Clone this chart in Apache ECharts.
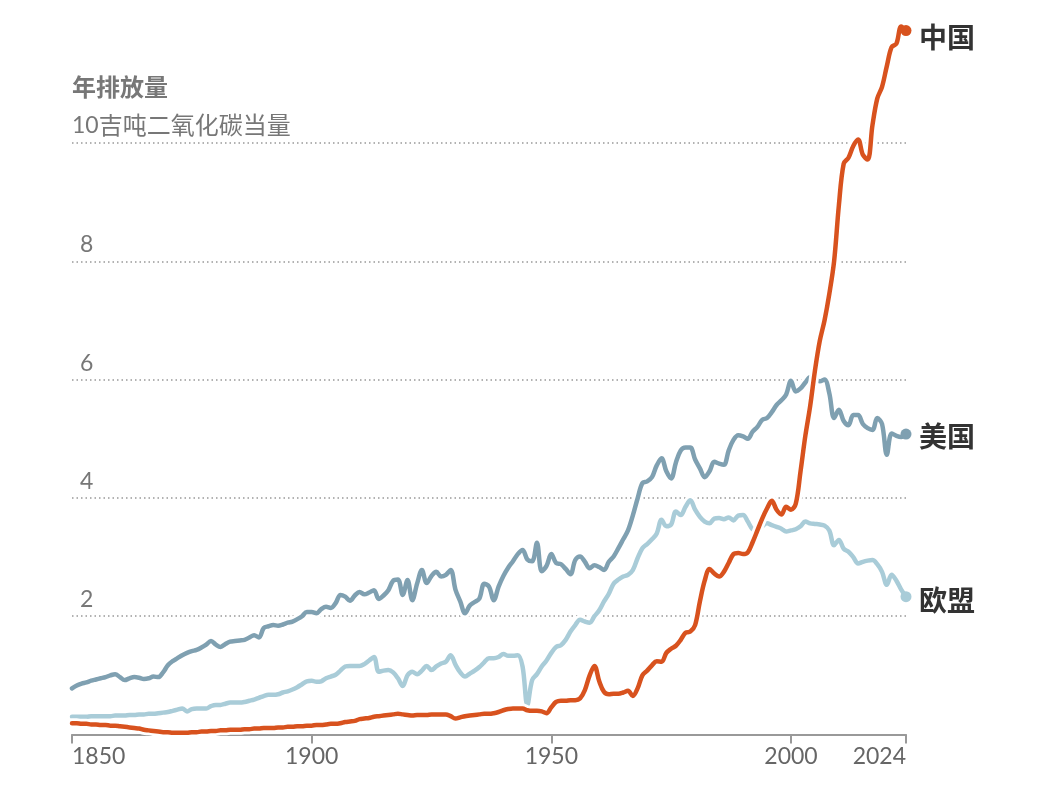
<!DOCTYPE html>
<html><head><meta charset="utf-8">
<script src="https://cdn.jsdelivr.net/npm/echarts@6/dist/echarts.min.js"></script>
<style>html,body{margin:0;padding:0;background:#fff}#c{width:1050px;height:788px}</style>
</head><body><div id="c"></div>
<script>
const startYear = 1850;
const xTicks = [1850, 1900, 1950, 2000, 2024];
const yTicks = [2, 4, 6, 8, 10];
const unitLabel = '吉吨二氧化碳当量';
const titleText = '年排放量';

const usValues = [
  0.78,0.83,0.86,0.88,0.91,0.93,0.95,0.97,1.00,1.02,
  0.97,0.92,0.95,0.97,0.96,0.94,0.95,0.98,0.97,1.05,
  1.17,1.24,1.29,1.34,1.38,1.41,1.43,1.47,1.52,1.58,
  1.52,1.48,1.53,1.57,1.58,1.59,1.60,1.64,1.68,1.64,
  1.80,1.83,1.85,1.84,1.86,1.89,1.91,1.95,2.00,2.07,
  2.07,2.05,2.12,2.16,2.14,2.22,2.36,2.33,2.26,2.35,
  2.41,2.37,2.40,2.44,2.29,2.35,2.44,2.60,2.62,2.36,
  2.61,2.27,2.55,2.78,2.56,2.68,2.75,2.67,2.70,2.78,
  2.45,2.25,2.05,2.18,2.24,2.30,2.55,2.50,2.27,2.50,
  2.68,2.82,2.93,3.05,3.12,2.96,2.93,3.24,2.76,2.85,
  3.05,2.90,2.88,2.80,2.71,2.95,3.01,2.92,2.81,2.86,
  2.83,2.78,2.92,3.01,3.15,3.30,3.45,3.70,3.99,4.25,
  4.28,4.35,4.55,4.67,4.45,4.33,4.60,4.80,4.85,4.85,
  4.65,4.50,4.35,4.45,4.61,4.58,4.56,4.80,4.98,5.06,
  5.04,5.00,5.12,5.20,5.32,5.35,5.45,5.57,5.65,5.75,
  5.98,5.80,5.85,5.95,6.04,6.02,5.97,6.00,5.77,5.35,
  5.49,5.30,5.23,5.40,5.40,5.25,5.18,5.15,5.35,5.25,
  4.73,5.09,5.05,5.03,5.08
];
const euValues = [
  0.30,0.30,0.30,0.30,0.31,0.31,0.31,0.31,0.31,0.32,
  0.32,0.32,0.33,0.33,0.34,0.34,0.35,0.35,0.36,0.37,
  0.38,0.40,0.42,0.44,0.39,0.43,0.44,0.44,0.44,0.48,
  0.50,0.50,0.52,0.54,0.54,0.54,0.55,0.57,0.59,0.62,
  0.65,0.67,0.67,0.68,0.71,0.73,0.76,0.80,0.85,0.90,
  0.91,0.89,0.90,0.95,0.98,1.01,1.08,1.15,1.16,1.16,
  1.16,1.19,1.25,1.31,1.06,1.08,1.09,1.05,0.95,0.82,
  1.00,1.06,1.02,1.08,1.16,1.09,1.15,1.20,1.23,1.34,
  1.18,1.05,0.98,1.03,1.08,1.14,1.22,1.29,1.29,1.31,
  1.36,1.33,1.33,1.34,1.15,0.50,0.92,1.02,1.15,1.25,
  1.38,1.48,1.51,1.60,1.74,1.85,1.94,1.91,1.89,2.00,
  2.10,2.25,2.38,2.55,2.62,2.67,2.70,2.78,2.98,3.15,
  3.22,3.30,3.40,3.63,3.52,3.55,3.77,3.71,3.85,3.96,
  3.80,3.68,3.60,3.57,3.65,3.66,3.64,3.67,3.62,3.70,
  3.71,3.60,3.47,3.45,3.52,3.57,3.54,3.51,3.48,3.43,
  3.45,3.47,3.52,3.60,3.57,3.56,3.55,3.53,3.45,3.20,
  3.29,3.14,3.09,3.00,2.89,2.92,2.94,2.95,2.88,2.75,
  2.53,2.70,2.60,2.45,2.33
];
const chinaValues = [
  0.19,0.19,0.18,0.18,0.17,0.17,0.16,0.16,0.15,0.15,
  0.14,0.13,0.12,0.11,0.10,0.08,0.07,0.06,0.05,0.04,
  0.04,0.03,0.03,0.03,0.03,0.04,0.04,0.05,0.05,0.06,
  0.06,0.07,0.07,0.08,0.08,0.08,0.09,0.09,0.10,0.10,
  0.11,0.11,0.11,0.12,0.12,0.13,0.13,0.14,0.14,0.15,
  0.15,0.16,0.16,0.17,0.18,0.18,0.19,0.21,0.22,0.23,
  0.26,0.27,0.28,0.30,0.31,0.32,0.33,0.34,0.35,0.34,
  0.33,0.32,0.33,0.33,0.33,0.34,0.34,0.34,0.34,0.31,
  0.27,0.29,0.31,0.32,0.33,0.34,0.35,0.35,0.36,0.38,
  0.41,0.43,0.44,0.44,0.44,0.41,0.40,0.40,0.39,0.36,
  0.46,0.55,0.57,0.57,0.58,0.58,0.61,0.75,1.00,1.16,
  0.90,0.72,0.68,0.69,0.69,0.71,0.74,0.65,0.78,1.00,
  1.08,1.17,1.24,1.23,1.38,1.45,1.50,1.60,1.72,1.74,
  1.85,2.25,2.60,2.80,2.72,2.67,2.75,2.90,3.05,3.07,
  3.05,3.08,3.25,3.45,3.65,3.82,3.95,3.80,3.72,3.85,
  3.80,3.90,4.45,5.05,5.55,6.15,6.65,7.00,7.45,8.00,
  8.95,9.65,9.75,9.95,10.06,9.80,9.72,10.30,10.75,10.95,
  11.30,11.62,11.68,11.97,11.90
];

const seriesNames = ['美国', '欧盟', '中国'];
const seriesColors = ['#7fa0b1', '#a9ccd8', '#d8521e'];
const seriesValues = [usValues, euValues, chinaValues];
const labelOffsets = [4, 5, 8];

const FONT = 'Lato, "Noto Sans CJK SC", sans-serif';
const SMOOTH = 0.35;

function pairs(arr) { return arr.map((v, i) => [startYear + i, v]); }

const series = [];
seriesValues.forEach((arr, k) => {
  const d = pairs(arr);
  const last = d.length - 1;
  series.push({
    type: 'line', data: d, symbol: 'none', smooth: SMOOTH, silent: true,
    lineStyle: { color: '#ffffff', width: 10, cap: 'round' }, z: 2
  });
  series.push({
    type: 'line', name: seriesNames[k], silent: true, smooth: SMOOTH,
    showSymbol: true, showAllSymbol: true,
    data: d.map((p, i) => i === last
      ? { value: p, symbol: 'circle', symbolSize: 11 }
      : { value: p, symbol: 'none' }),
    lineStyle: { color: seriesColors[k], width: 4.5, cap: 'round' },
    itemStyle: { color: seriesColors[k] },
    endLabel: {
      show: true, formatter: seriesNames[k], color: '#333', fontSize: 28,
      fontWeight: 'bold', fontFamily: FONT, distance: 13, offset: [0, labelOffsets[k]]
    },
    z: 2
  });
});

const chart = echarts.init(document.getElementById('c'), null, { renderer: 'canvas' });
chart.setOption({
  animation: false,
  backgroundColor: '#fff',
  title: {
    text: titleText, left: 72, top: 76, padding: 0,
    textStyle: { fontSize: 24, fontWeight: 'bold', color: '#777', fontFamily: FONT }
  },
  grid: { left: 72, right: 144, top: 24.7, bottom: 53.5, containLabel: false, outerBoundsMode: 'none' },
  xAxis: {
    type: 'value', min: xTicks[0], max: xTicks[xTicks.length - 1],
    axisLine: { show: true, lineStyle: { color: '#999', width: 2 } },
    axisTick: { show: true, customValues: xTicks, length: 9, lineStyle: { color: '#999', width: 2 } },
    axisLabel: {
      customValues: xTicks, margin: 11, fontSize: 23, color: '#666', fontFamily: FONT,
      alignMinLabel: 'left', alignMaxLabel: 'right', formatter: v => String(v)
    },
    splitLine: { show: false }
  },
  yAxis: {
    type: 'value', min: 0, max: 12, interval: 2,
    axisLine: { show: false }, axisTick: { show: false },
    splitLine: {
      show: true, showMinLine: false, showMaxLine: false,
      lineStyle: { color: '#999', type: [1.5, 3], width: 1.5 }
    },
    axisLabel: {
      inside: true, margin: 0, showMinLabel: false, showMaxLabel: false,
      verticalAlign: 'bottom', align: 'left', padding: [0, 0, 5, 0],
      fontSize: 23, color: '#777', fontFamily: FONT,
      formatter: v => yTicks.indexOf(v) < 0 ? '' :
        (v === yTicks[yTicks.length - 1] ? '{n|' + v + '}{u|' + unitLabel + '}' : '{d|' + v + '}'),
      rich: {
        d: { padding: [0, 0, 0, 8], fontSize: 23, color: '#777', fontFamily: FONT },
        n: { fontSize: 23, color: '#777', fontFamily: FONT },
        u: { fontSize: 24, color: '#777', fontFamily: FONT }
      }
    }
  },
  series: series
});
</script>
</body></html>
